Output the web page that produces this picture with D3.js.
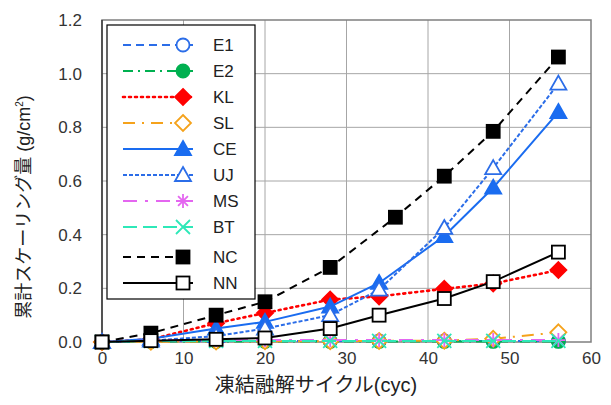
<!DOCTYPE html>
<html>
<head>
<meta charset="utf-8">
<script src="https://cdn.jsdelivr.net/npm/d3@7"></script>
<style>
  body { margin: 0; background: #fff; }
  text { font-family: "Liberation Sans", Arial, "Noto Sans CJK JP", sans-serif; }
</style>
</head>
<body>
<div id="chart"></div>
<script>
// 凍結融解サイクル
const cycles = [0, 6, 14, 20, 28, 34, 42, 48, 56];
const cyclesNC = [0, 6, 14, 20, 28, 36, 42, 48, 56];

// 累計スケーリング量 (g/cm2)
const valE1 = [0, 0.003, 0.004, 0.004, 0.004, 0.004, 0.004, 0.004, 0.004];
const valE2 = [0, 0.002, 0.002, 0.002, 0.002, 0.002, 0.002, 0.002, 0.002];
const valKL = [0, 0.01, 0.07, 0.108, 0.158, 0.17, 0.198, 0.218, 0.268];
const valSL = [0, 0.001, 0.002, 0.003, 0.003, 0.004, 0.005, 0.012, 0.036];
const valCE = [0, 0.012, 0.05, 0.075, 0.132, 0.22, 0.395, 0.575, 0.857];
const valUJ = [0, 0.005, 0.022, 0.05, 0.1, 0.195, 0.425, 0.648, 0.963];
const valMS = [0, 0.006, 0.007, 0.007, 0.007, 0.007, 0.007, 0.007, 0.007];
const valBT = [0, 0.004, 0.004, 0.004, 0.004, 0.004, 0.004, 0.004, 0.004];
const valNC = [0, 0.033, 0.1, 0.15, 0.278, 0.465, 0.618, 0.785, 1.062];
const valNN = [0, 0.005, 0.01, 0.015, 0.05, 0.1, 0.162, 0.225, 0.335];

const xTicks = [0, 10, 20, 30, 40, 50, 60];
const yTicks = [0, 0.2, 0.4, 0.6, 0.8, 1.0, 1.2];

// 系列の見た目
const series = [
  { name: "E1", xs: cycles, ys: valE1, color: "#2b6de8", dash: "8,5", marker: "circle", fill: "#fff" },
  { name: "E2", xs: cycles, ys: valE2, color: "#00b050", dash: "10,5,2,5", marker: "circle", fill: "#00b050" },
  { name: "KL", xs: cycles, ys: valKL, color: "#ff0000", dash: "2,4", marker: "diamond", fill: "#ff0000" },
  { name: "SL", xs: cycles, ys: valSL, color: "#f5a21b", dash: "12,7,2,7", marker: "diamond", fill: "#fff" },
  { name: "CE", xs: cycles, ys: valCE, color: "#1a6cf0", dash: null, marker: "triangle", fill: "#1a6cf0" },
  { name: "UJ", xs: cycles, ys: valUJ, color: "#2b6de8", dash: "4,2", marker: "triangle", fill: "#fff" },
  { name: "MS", xs: cycles, ys: valMS, color: "#e466f0", dash: "14,8,3,8", marker: "asterisk", fill: "none" },
  { name: "BT", xs: cycles, ys: valBT, color: "#2ee8b8", dash: "14,6", marker: "cross", fill: "none" },
  { name: "NC", xs: cyclesNC, ys: valNC, color: "#000", dash: "8,6", marker: "square", fill: "#000" },
  { name: "NN", xs: cycles, ys: valNN, color: "#000", dash: null, marker: "square", fill: "#fff" }
];

const width = 611, height = 405;
const margin = { left: 102, right: 20, top: 20, bottom: 63 };

const svg = d3.select("#chart").append("svg")
  .attr("width", width)
  .attr("height", height);

const x = d3.scaleLinear().domain([0, 60]).range([margin.left, width - margin.right]);
const y = d3.scaleLinear().domain([0, 1.2]).range([height - margin.bottom, margin.top]);

// グリッド
svg.append("g")
  .selectAll("line.gx")
  .data(xTicks.slice(1, -1))
  .join("line")
  .attr("x1", d => x(d)).attr("x2", d => x(d))
  .attr("y1", y(1.2)).attr("y2", y(0))
  .attr("stroke", "#a6a6a6").attr("stroke-width", 1);

svg.append("g")
  .selectAll("line.gy")
  .data(yTicks.slice(1, -1))
  .join("line")
  .attr("x1", x(0)).attr("x2", x(60))
  .attr("y1", d => y(d)).attr("y2", d => y(d))
  .attr("stroke", "#a6a6a6").attr("stroke-width", 1);

// 枠
svg.append("rect")
  .attr("x", x(0)).attr("y", y(1.2))
  .attr("width", x(60) - x(0)).attr("height", y(0) - y(1.2))
  .attr("fill", "none").attr("stroke", "#7f7f7f").attr("stroke-width", 1.5);

svg.append("line")
  .attr("x1", x(0)).attr("x2", x(0)).attr("y1", y(1.2)).attr("y2", y(0))
  .attr("stroke", "#222").attr("stroke-width", 1.2);

// 軸
const xAxis = svg.append("g")
  .attr("transform", `translate(0,${y(0)})`)
  .call(d3.axisBottom(x).tickValues(xTicks).tickSize(0).tickPadding(10));
const yAxis = svg.append("g")
  .attr("transform", `translate(${x(0)},0)`)
  .call(d3.axisLeft(y).tickValues(yTicks).tickFormat(d3.format(".1f")).tickSize(0).tickPadding(20));
[xAxis, yAxis].forEach(g => {
  g.select(".domain").remove();
  g.selectAll("text").attr("font-size", 17).attr("fill", "#333")
    .attr("font-family", "'Liberation Sans', Arial, sans-serif");
});

// マーカー
function drawMarker(g, type, cx, cy, s) {
  const color = s.color;
  if (type === "circle") {
    g.append("circle").attr("cx", cx).attr("cy", cy).attr("r", 6.5)
      .attr("fill", s.fill).attr("stroke", color).attr("stroke-width", 1.8);
  } else if (type === "diamond") {
    const r = 8;
    g.append("path")
      .attr("d", `M${cx},${cy - r}L${cx + r},${cy}L${cx},${cy + r}L${cx - r},${cy}Z`)
      .attr("fill", s.fill).attr("stroke", color).attr("stroke-width", 1.8);
  } else if (type === "triangle") {
    const r = 8;
    g.append("path")
      .attr("d", `M${cx},${cy - r}L${cx + r},${cy + r * 0.75}L${cx - r},${cy + r * 0.75}Z`)
      .attr("fill", s.fill).attr("stroke", color).attr("stroke-width", 1.8);
  } else if (type === "square") {
    const r = 6.5;
    g.append("rect").attr("x", cx - r).attr("y", cy - r).attr("width", 2 * r).attr("height", 2 * r)
      .attr("fill", s.fill).attr("stroke", color).attr("stroke-width", 1.8);
  } else if (type === "asterisk") {
    const r = 7;
    const p = d3.path();
    [0, 45, 90, 135].forEach(a => {
      const t = a * Math.PI / 180;
      p.moveTo(cx - r * Math.cos(t), cy - r * Math.sin(t));
      p.lineTo(cx + r * Math.cos(t), cy + r * Math.sin(t));
    });
    g.append("path").attr("d", p.toString()).attr("stroke", color).attr("stroke-width", 1.8);
  } else if (type === "cross") {
    const r = 7;
    const p = d3.path();
    p.moveTo(cx - r, cy - r); p.lineTo(cx + r, cy + r);
    p.moveTo(cx - r, cy + r); p.lineTo(cx + r, cy - r);
    g.append("path").attr("d", p.toString()).attr("stroke", color).attr("stroke-width", 1.8);
  }
}

const line = d3.line().x(d => x(d[0])).y(d => y(d[1]));

series.forEach(s => {
  const pts = s.xs.map((v, i) => [v, s.ys[i]]);
  const g = svg.append("g");
  g.append("path")
    .attr("d", line(pts))
    .attr("fill", "none")
    .attr("stroke", s.color)
    .attr("stroke-width", s.name === "KL" ? 2.6 : 2)
    .attr("stroke-linecap", s.name === "KL" ? "round" : "butt")
    .attr("stroke-dasharray", s.dash);
  pts.forEach(p => drawMarker(g, s.marker, x(p[0]), y(p[1]), s));
});

// 凡例
const lg = svg.append("g");
lg.append("rect")
  .attr("x", 107).attr("y", 25).attr("width", 148).attr("height", 274)
  .attr("fill", "#fff").attr("stroke", "#000").attr("stroke-width", 1.2);

series.forEach((s, i) => {
  const ly = 45 + i * 26 + (i >= 8 ? 4 : 0);
  lg.append("line")
    .attr("x1", 123).attr("x2", 193).attr("y1", ly).attr("y2", ly)
    .attr("stroke", s.color)
    .attr("stroke-width", s.name === "KL" ? 2.6 : 2)
    .attr("stroke-linecap", s.name === "KL" ? "round" : "butt")
    .attr("stroke-dasharray", s.dash);
  drawMarker(lg, s.marker, 183, ly, s);
  lg.append("text")
    .attr("x", 213).attr("y", ly)
    .attr("dominant-baseline", "central")
    .attr("font-size", 17).attr("fill", "#222")
    .text(s.name);
});

// 軸タイトル
svg.append("text")
  .attr("x", 316).attr("y", 392)
  .attr("text-anchor", "middle")
  .attr("font-size", 20).attr("fill", "#222")
  .attr("font-family", "'Noto Sans CJK JP', sans-serif")
  .text("凍結融解サイクル(cyc)");

const yt = svg.append("text")
  .attr("transform", `translate(30,207) rotate(-90)`)
  .attr("text-anchor", "middle")
  .attr("font-size", 18).attr("fill", "#222")
  .attr("font-family", "'Noto Sans CJK JP', sans-serif");
yt.append("tspan").text("累計スケーリング量 (g/cm");
yt.append("tspan").attr("font-size", 10).attr("dy", -7).text("2");
yt.append("tspan").attr("dy", 7).text(")");
</script>
</body>
</html>
